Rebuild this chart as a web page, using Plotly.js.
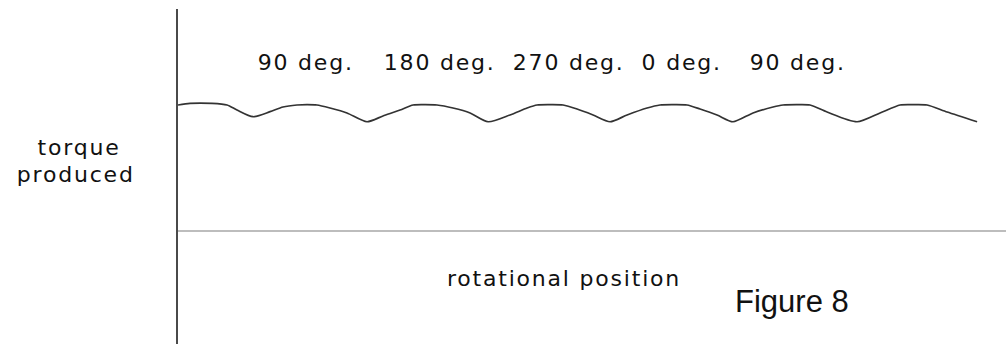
<!DOCTYPE html>
<html>
<head>
<meta charset="utf-8">
<script src="https://cdn.plot.ly/plotly-3.0.1.min.js"></script>
<style>
  html, body { margin: 0; padding: 0; background: #ffffff; }
  #chart { width: 1006px; height: 344px; }
</style>
</head>
<body>
<div id="chart"></div>
<script>
// Rotational position (degrees) and relative torque produced
const position = [0, 8.9, 25.3, 36.5, 43.9, 55.8, 68.5, 78.1, 88.5, 96, 103.4, 113.1, 125.7,
  140.6, 152.5, 165.2, 174.9, 184, 192.7, 204.6, 217.3,
  230.7, 247.0, 259.7, 267.1, 277, 286.5, 296.9, 308.8,
  321.4, 334.1, 349.0, 358.6, 368, 378.7, 388.4, 401.0,
  412.9, 427.8, 442.7, 450.1, 460, 470.2, 482.9,
  505.2, 522.3, 537.2, 547, 557.3, 572.2, 594.5];
const torque = [1.0, 1.013, 1.013, 1.0, 0.960, 0.907, 0.947, 0.984, 1.0, 1.003, 1.0, 0.976, 0.937,
  0.867, 0.913, 0.960, 1.0, 1.003, 1.0, 0.976, 0.937,
  0.867, 0.921, 0.976, 1.0, 1.003, 1.0, 0.968, 0.921,
  0.867, 0.921, 0.976, 1.0, 1.003, 1.0, 0.968, 0.921,
  0.867, 0.937, 0.984, 1.0, 1.003, 1.0, 0.944,
  0.867, 0.937, 1.0, 1.003, 1.0, 0.944, 0.867];

// Angle labels above the torque peaks
const angleLabels = ["90 deg.", "180 deg.", "270 deg.", "0 deg.", "90 deg."];
const angleLabelPos = [95.2, 194.9, 290.2, 374.3, 460.6];

const yTitleLines = ["torque", "produced"];
const xTitleText = "rotational position";
const figureText = "Figure 8";

const spacedFont = { family: "DejaVu Sans", size: 22, color: "#111111" };

const annotations = [];
angleLabels.forEach(function (t, i) {
  annotations.push({
    text: t, x: angleLabelPos[i], xref: "x", y: 0.840, yref: "paper",
    xanchor: "center", yanchor: "middle", showarrow: false, font: spacedFont
  });
});
annotations.push({ text: yTitleLines[0], x: -0.1196, xref: "paper", y: 0.588, yref: "paper",
  xanchor: "center", yanchor: "middle", showarrow: false, font: spacedFont });
annotations.push({ text: yTitleLines[1], x: -0.1232, xref: "paper", y: 0.506, yref: "paper",
  xanchor: "center", yanchor: "middle", showarrow: false, font: spacedFont });
annotations.push({ text: xTitleText, x: 0.466, xref: "paper", y: 0.197, yref: "paper",
  xanchor: "center", yanchor: "middle", showarrow: false, font: spacedFont });
annotations.push({ text: figureText, x: 0.742, xref: "paper", y: 0.128, yref: "paper",
  xanchor: "center", yanchor: "middle", showarrow: false,
  font: { family: "Liberation Sans", size: 31, color: "#111111" } });

const trace = {
  x: position, y: torque, type: "scatter", mode: "lines",
  line: { color: "#333333", width: 1.7, shape: "spline", smoothing: 0.7 },
  hoverinfo: "skip"
};

const layout = {
  width: 1006, height: 344,
  margin: { l: 178, r: 0, t: 9, b: 0, pad: 0 },
  paper_bgcolor: "#ffffff", plot_bgcolor: "#ffffff",
  showlegend: false,
  xaxis: { range: [0, 616], showgrid: false, zeroline: false, showline: false,
    showticklabels: false, ticks: "", fixedrange: true },
  yaxis: { range: [-0.897, 1.762], showgrid: false, zeroline: true,
    zerolinecolor: "#bdbdbd", zerolinewidth: 2,
    showline: true, linecolor: "#4a4a4a", linewidth: 2,
    showticklabels: false, ticks: "", fixedrange: true },
  annotations: annotations
};

Plotly.newPlot("chart", [trace], layout, { displayModeBar: false, staticPlot: true }).then(function () {
  document.querySelectorAll(".annotation-text").forEach(function (el) {
    if (el.textContent !== figureText) {
      el.style.letterSpacing = "1.8px";
    }
  });
});
</script>
</body>
</html>
